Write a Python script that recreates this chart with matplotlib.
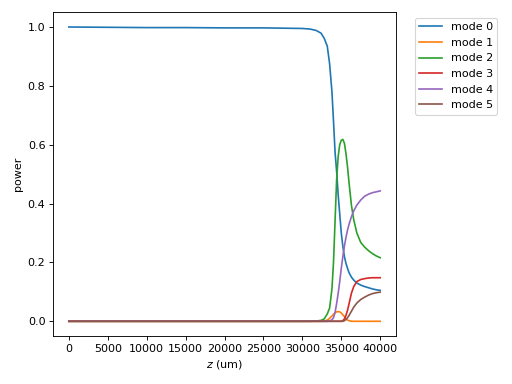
import matplotlib
matplotlib.use("Agg")
import matplotlib.pyplot as plt

# propagation distance (um)
z = [0, 5000, 10000, 15000, 20000, 25000, 30000, 31000, 31800, 32400, 32800,
     33200, 33500, 33800, 34000, 34200, 34400, 34600, 34800, 35000, 35200,
     35400, 35600, 35800, 36000, 36300, 36600, 37000, 37500, 38000, 38500,
     39000, 39500, 40000]

mode0 = [1.0, 0.999, 0.998, 0.998, 0.997, 0.997, 0.995, 0.993, 0.988, 0.979, 0.962,
         0.935, 0.875, 0.78, 0.68, 0.575, 0.51, 0.43, 0.365, 0.30, 0.255,
         0.22, 0.197, 0.18, 0.165, 0.15, 0.14, 0.13, 0.123, 0.118, 0.114,
         0.11, 0.107, 0.105]
mode1 = [0.0, 0.0, 0.0, 0.0, 0.0, 0.0, 0.0, 0.0, 0.0, 0.0, 0.001,
         0.004, 0.01, 0.018, 0.024, 0.029, 0.032, 0.033, 0.032, 0.028, 0.022,
         0.016, 0.009, 0.004, 0.002, 0.0, 0.0, 0.0, 0.0, 0.0, 0.0,
         0.0, 0.0, 0.0]
mode2 = [0.0, 0.0, 0.0, 0.0, 0.0, 0.0, 0.0, 0.0, 0.001, 0.003, 0.008,
         0.025, 0.045, 0.11, 0.2, 0.34, 0.48, 0.56, 0.6, 0.615, 0.618,
         0.605, 0.57, 0.525, 0.47, 0.395, 0.345, 0.3, 0.268, 0.252, 0.24,
         0.23, 0.222, 0.216]
mode3 = [0.0, 0.0, 0.0, 0.0, 0.0, 0.0, 0.0, 0.0, 0.0, 0.0, 0.0,
         0.0, 0.0, 0.0, 0.0, 0.0, 0.0, 0.0, 0.0, 0.0, 0.002,
         0.008, 0.02, 0.037, 0.06, 0.095, 0.118, 0.135, 0.142, 0.145, 0.147,
         0.148, 0.148, 0.148]
mode4 = [0.0, 0.0, 0.0, 0.0, 0.0, 0.0, 0.0, 0.0, 0.0, 0.0, 0.0,
         0.0, 0.001, 0.005, 0.012, 0.03, 0.06, 0.095, 0.135, 0.18, 0.22,
         0.255, 0.285, 0.31, 0.33, 0.355, 0.375, 0.395, 0.412, 0.425, 0.432,
         0.437, 0.44, 0.443]
mode5 = [0.0, 0.0, 0.0, 0.0, 0.0, 0.0, 0.0, 0.0, 0.0, 0.0, 0.0,
         0.0, 0.0, 0.0, 0.0, 0.0, 0.0, 0.0, 0.0, 0.0, 0.0,
         0.002, 0.006, 0.012, 0.02, 0.034, 0.048, 0.062, 0.074, 0.082, 0.089,
         0.094, 0.097, 0.099]

modes = [mode0, mode1, mode2, mode3, mode4, mode5]
labels = [f"mode {i}" for i in range(len(modes))]

fig = plt.figure(figsize=(6.4, 4.8), dpi=80)
ax = fig.add_axes([0.104, 0.125, 0.669, 0.843])
for vals, lab in zip(modes, labels):
    ax.plot(z, vals, label=lab)

ax.set_xticks(range(0, 40001, 5000))
ax.set_xlabel("$z$ (um)")
ax.set_ylabel("power")
ax.legend(bbox_to_anchor=(1.04, 1), loc="upper left")

fig.savefig("out.png", dpi=80)
